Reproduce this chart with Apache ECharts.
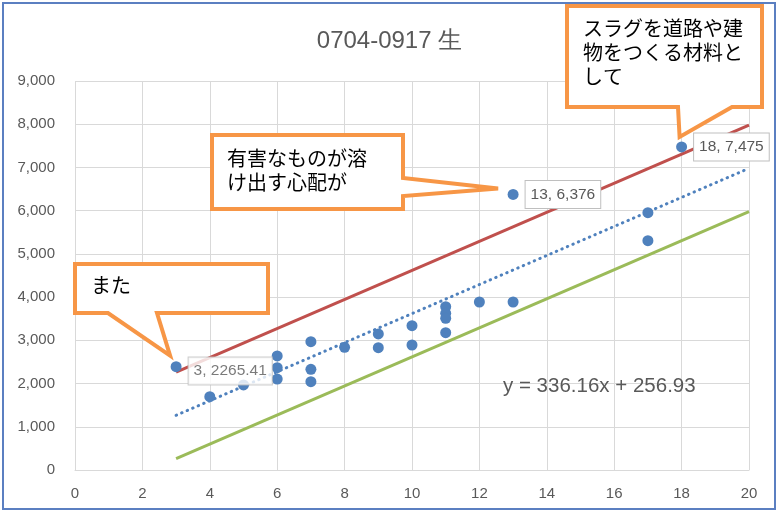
<!DOCTYPE html>
<html>
<head>
<meta charset="utf-8">
<script src="https://cdn.jsdelivr.net/npm/echarts@6/dist/echarts.min.js"></script>
<style>
  html, body { margin: 0; padding: 0; background: #fff; }
  #chart { width: 779px; height: 512px; }
</style>
</head>
<body>
<div id="chart"></div>
<script>
// Observations: (x, y)
const xValues = [3, 4, 5, 6, 6, 6, 7, 7, 7, 8, 9, 9, 10, 10, 11, 11, 11, 11, 12, 13, 13, 17, 17, 18];
const yValues = [2390, 1696, 1967, 2638, 2367, 2105, 2969, 2330, 2043, 2839, 3147, 2830,
                 3339, 2892, 3778, 3626, 3510, 3177, 3887, 3887, 6376, 5953, 5305, 7475];

// Linear trend and the two guide lines (endpoints at x = 3 and x = 20)
const trendSlope = 336.16;
const trendIntercept = 256.93;
const trendLine = [[3, 1265.41], [20, 6980.13]];
const upperLine = [[3, 2265.41], [20, 7980.13]];
const lowerLine = [[3, 265.41], [20, 5980.13]];

// Points that carry a value label
const labelledPoints = [[13, 6376], [18, 7475]];

const xTicks = [0, 2, 4, 6, 8, 10, 12, 14, 16, 18, 20];
const yTicks = [0, 1000, 2000, 3000, 4000, 5000, 6000, 7000, 8000, 9000];

// Callout notes
const noteMata = ['また'];
const noteLeach = ['有害なものが溶', 'け出す心配が'];
const noteSlag = ['スラグを道路や建', '物をつくる材料と', 'して'];

const AX_FONT = '"Liberation Sans", Arial, sans-serif';
const JP_FONT = '"Noto Sans CJK JP", sans-serif';
const GRAY = '#595959';

const fmt = v => v.toLocaleString('en-US');

const valueLabel = {
  show: true,
  position: 'right',
  distance: 7,
  color: GRAY,
  fontFamily: AX_FONT,
  fontSize: 15.5,
  backgroundColor: '#fff',
  borderColor: '#bfbfbf',
  borderWidth: 1,
  padding: [6, 5, 5, 5]
};

const points = xValues.map((x, i) => {
  const y = yValues[i];
  const isLabelled = labelledPoints.some(p => p[0] === x && p[1] === y);
  if (!isLabelled) return [x, y];
  return {
    value: [x, y],
    label: Object.assign({}, valueLabel, { formatter: x + ', ' + fmt(y) })
  };
});

const chart = echarts.init(document.getElementById('chart'), null, { renderer: 'canvas' });

const option = {
  animation: false,
  backgroundColor: '#fff',
  title: {
    text: '0704-0917 生',
    left: 'center',
    top: 24,
    textStyle: { color: GRAY, fontFamily: AX_FONT, fontSize: 24, fontWeight: 'normal' }
  },
  grid: { left: 75, right: 30, top: 81, bottom: 42 },
  xAxis: {
    type: 'value',
    min: xTicks[0],
    max: xTicks[xTicks.length - 1],
    interval: xTicks[1] - xTicks[0],
    axisLine: { show: true, lineStyle: { color: '#d9d9d9', width: 1 } },
    axisTick: { show: false },
    axisLabel: { color: GRAY, fontFamily: AX_FONT, fontSize: 15, margin: 16 },
    splitLine: { show: true, lineStyle: { color: '#d9d9d9', width: 1 } }
  },
  yAxis: {
    type: 'value',
    min: yTicks[0],
    max: yTicks[yTicks.length - 1],
    interval: yTicks[1] - yTicks[0],
    axisLine: { show: false },
    axisTick: { show: false },
    axisLabel: { color: GRAY, fontFamily: AX_FONT, fontSize: 15, margin: 20, formatter: v => fmt(v) },
    splitLine: { show: true, lineStyle: { color: '#d9d9d9', width: 1 } }
  },
  series: [
    {
      name: 'upper',
      type: 'line',
      data: upperLine,
      showSymbol: false,
      lineStyle: { color: '#C0504D', width: 3 },
      z: 3
    },
    {
      name: 'lower',
      type: 'line',
      data: lowerLine,
      showSymbol: false,
      lineStyle: { color: '#9BBB59', width: 3 },
      z: 3
    },
    {
      name: 'trend',
      type: 'line',
      data: trendLine,
      showSymbol: false,
      lineStyle: { color: '#4F81BD', width: 3, type: [0.5, 5.5], cap: 'round' },
      z: 3
    },
    {
      name: 'obs',
      type: 'scatter',
      data: points,
      symbolSize: 11,
      itemStyle: { color: '#4F81BD', opacity: 1 },
      z: 5
    },
    {
      name: 'upperStart',
      type: 'scatter',
      data: [upperLine[0]],
      symbolSize: 1,
      itemStyle: { color: 'rgba(0,0,0,0)' },
      label: Object.assign({}, valueLabel, {
        distance: 12,
        offset: [0, -1],
        formatter: p => p.value[0] + ', ' + p.value[1].toFixed(2)
      }),
      z: 6
    }
  ]
};

chart.setOption(option);

// Wedge-shaped callout: a box with a pointer from one edge to a tip
function callout(box, edge, a, b, tip) {
  const [x0, y0, x1, y1] = box;
  let pts;
  if (edge === 'bottom') {
    pts = [[x0, y0], [x1, y0], [x1, y1], [b, y1], tip, [a, y1], [x0, y1]];
  } else {
    pts = [[x0, y0], [x1, y0], [x1, a], tip, [x1, b], [x1, y1], [x0, y1]];
  }
  return {
    type: 'polygon',
    shape: { points: pts },
    style: { fill: '#fff', stroke: '#F79646', lineWidth: 4, lineJoin: 'miter' },
    z: 100
  };
}

function noteText(lines, x, y) {
  return {
    type: 'text',
    x: x, y: y,
    style: {
      text: lines.join('\n'),
      fill: '#000',
      font: '20px ' + JP_FONT,
      lineHeight: 24,
      textVerticalAlign: 'top'
    },
    z: 101
  };
}

const px = p => chart.convertToPixel({ gridIndex: 0 }, p);
const tipMata = px([xValues[0], yValues[0]]);
const tipLeach = px(labelledPoints[0]);
const tipSlag = px(labelledPoints[1]);

chart.setOption({
  graphic: [
    {
      type: 'rect',
      shape: { x: 3, y: 3, width: 772, height: 506 },
      style: { fill: 'none', stroke: '#5B7FC1', lineWidth: 2 },
      z: 99
    },
    callout([75, 264, 268, 313], 'bottom', 108, 157, [tipMata[0] - 6, tipMata[1] - 11]),
    noteText(noteMata, 91, 273),
    callout([212, 135, 403, 209], 'right', 178, 196, [tipLeach[0] - 15, tipLeach[1] - 6]),
    noteText(noteLeach, 227, 146),
    callout([567, 6, 762, 107], 'bottom', 678, 732, [tipSlag[0] - 2, tipSlag[1] - 10]),
    noteText(noteSlag, 583, 16),
    {
      type: 'text',
      x: 503, y: 376,
      style: {
        text: 'y = ' + trendSlope.toFixed(2) + 'x + ' + trendIntercept.toFixed(2),
        fill: GRAY,
        font: '20.5px ' + AX_FONT,
        textVerticalAlign: 'top'
      },
      z: 50
    }
  ]
});
</script>
</body>
</html>
